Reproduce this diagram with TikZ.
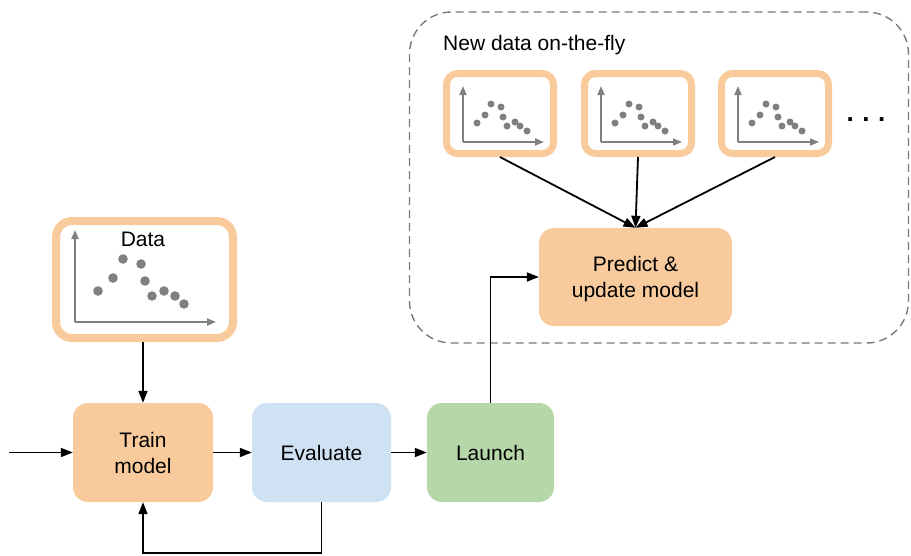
\documentclass[tikz,border=0pt]{standalone}
\usepackage{fontspec}
\setmainfont{Liberation Sans}
\usetikzlibrary{arrows.meta}
\definecolor{orangefill}{HTML}{F9CB9C}
\definecolor{bluefill}{HTML}{CFE2F3}
\definecolor{greenfill}{HTML}{B6D7A8}
\definecolor{axisgray}{HTML}{808080}
\definecolor{dashgray}{HTML}{7A7A7A}
\begin{document}
\begin{tikzpicture}[x=1pt,y=-1pt,
  every node/.style={font=\fontsize{21}{26}\selectfont, align=center, inner sep=0pt},
  flowbox/.style={rounded corners=15pt, minimum height=99pt, text=black},
  plotframe/.style={draw=orangefill, fill=white, rounded corners=11pt},
  region/.style={draw=dashgray, line width=1.4pt, dash pattern=on 8pt off 5pt, rounded corners=42pt},
  conn/.style={line width=1.8pt, -{Triangle[length=12pt,width=9pt]}},
  axisarrow/.style={draw=axisgray, -{Triangle[length=9pt,width=7pt]}},
  plotdot/.style={fill=axisgray, draw=none}
]
\useasboundingbox (0,0) rectangle (911,555);

% dashed region
\node[region, minimum width=499pt, minimum height=331pt] (area) at (659,177.5) {};
\node[anchor=base west] (areatitle) at (443,50) {New data on-the-fly};

% small plot frames
\foreach \i/\dx in {1/0,2/138,3/275} {
  \node[plotframe, line width=7pt, minimum width=107pt, minimum height=80pt] (nd\i) at (500+\dx,113.5) {};
  \begin{scope}[xshift=\dx pt]
    \draw[axisarrow, line width=1.7pt] (463,142) -- (463,86);
    \draw[axisarrow, line width=1.7pt] (463,142) -- (544,142);
    \foreach \px/\py in {477/123,485/115,491/104,501/107,503/117,507/126,515/122,520/126,527/131}
      \fill[plotdot] (\px,\py) circle (3.5pt);
  \end{scope}
}
\node[font=\bfseries\fontsize{26}{26}\selectfont] (more) at (866,120) {.\hspace{8.5pt}.\hspace{8.5pt}.};

% big data frame
\node[plotframe, line width=8pt, rounded corners=16pt, minimum width=177pt, minimum height=117pt] (data) at (144.5,279.5) {};
\draw[axisarrow, line width=2pt] (75,322) -- (75,230);
\draw[axisarrow, line width=2pt] (75,322) -- (216,322);
\foreach \px/\py in {98/291,113/278,123/259,141/264,145/281,152/296,164/291,175/296,184/304}
  \fill[plotdot] (\px,\py) circle (4.8pt);
\node (datalabel) at (143,239) {Data};

% flow boxes
\node[flowbox, fill=orangefill, minimum width=140pt] (train) at (143,452.5) {Train\\model};
\node[flowbox, fill=bluefill, minimum width=139pt] (eval) at (321.5,452.5) {Evaluate};
\node[flowbox, fill=greenfill, minimum width=127pt] (launch) at (490.5,452.5) {Launch};
\node[flowbox, fill=orangefill, minimum width=193pt, minimum height=98pt] (predict) at (635.5,277) {};
\node (predicttext) at (635.5,279) {Predict \&\\update model};

% connectors
\coordinate (in) at (9,452.5);
\draw[conn] (in) -- (train.west);
\draw[conn] (train.north |- data.south) -- (train.north);
\draw[conn] (train.east) -- (eval.west);
\draw[conn] (eval.east) -- (launch.west);
\draw[conn] (eval.south) -- ++(0,51) -| (train.south);
\draw[conn] (launch.north) |- (predict.west);
\foreach \i in {1,2,3}
  \draw[conn] (nd\i.south) -- (predict.north);
\end{tikzpicture}
\end{document}
